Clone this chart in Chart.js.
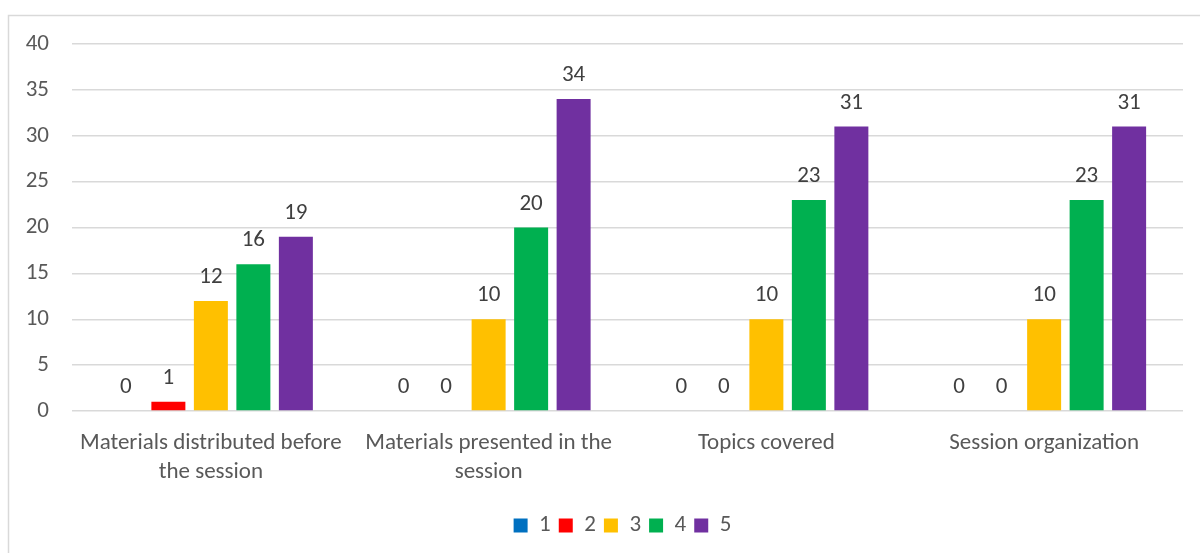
<!DOCTYPE html>
<html>
<head>
<meta charset="utf-8">
<title>Session feedback</title>
<script src="https://cdn.jsdelivr.net/npm/chart.js@4.4.1/dist/chart.umd.min.js"></script>
<style>
    html, body { margin: 0; padding: 0; background: #ffffff; }
    #wrap { position: relative; width: 1200px; height: 553px; }
</style>
</head>
<body>
<div id="wrap"><canvas id="feedbackChart"></canvas></div>
<script>
// categories (x axis)
const categories = [
    ['Materials distributed before', 'the session'],
    ['Materials presented in the', 'session'],
    'Topics covered',
    'Session organization'
];

// rating counts per category
const rating1 = [0, 0, 0, 0];
const rating2 = [1, 0, 0, 0];
const rating3 = [12, 10, 10, 10];
const rating4 = [16, 20, 23, 23];
const rating5 = [19, 34, 31, 31];

const ratingLabels = ['1', '2', '3', '4', '5'];
const ratingColors = ['#0070C0', '#FF0000', '#FFC000', '#00B050', '#7030A0'];

const yTicks = [0, 5, 10, 15, 20, 25, 30, 35, 40];

const fontFamily = "Carlito, Calibri, Lato, 'Open Sans', sans-serif";

// value above each bar
const valueLabels = {
    id: 'valueLabels',
    afterDatasetsDraw(chart) {
        const ctx = chart.ctx;
        ctx.save();
        ctx.font = '23px ' + fontFamily;
        ctx.fillStyle = '#404040';
        ctx.textAlign = 'center';
        ctx.textBaseline = 'alphabetic';
        chart.data.datasets.forEach((ds, i) => {
            const meta = chart.getDatasetMeta(i);
            if (meta.hidden) return;
            meta.data.forEach((bar, j) => {
                ctx.fillText(String(ds.data[j]), bar.x, bar.y - 18);
            });
        });
        ctx.restore();
    }
};

// light frame around the chart area
const chartFrame = {
    id: 'chartFrame',
    beforeDraw(chart) {
        const ctx = chart.ctx;
        ctx.save();
        ctx.strokeStyle = '#D9D9D9';
        ctx.lineWidth = 1.5;
        ctx.beginPath();
        ctx.moveTo(8.5, chart.height);
        ctx.lineTo(8.5, 15.5);
        ctx.lineTo(chart.width, 15.5);
        ctx.stroke();
        ctx.restore();
    }
};

// center the legend under the plot area instead of the whole canvas
const legendUnderPlot = {
    id: 'legendUnderPlot',
    afterLayout(chart) {
        const legend = chart.legend;
        if (!legend) return;
        const shift = (chart.chartArea.left + chart.chartArea.right) / 2 - (legend.left + legend.right) / 2 - 5;
        legend.left += shift;
        legend.right += shift;
    }
};

const datasets = [rating1, rating2, rating3, rating4, rating5].map((values, i) => ({
    label: ratingLabels[i],
    data: values,
    backgroundColor: ratingColors[i],
    borderWidth: 0,
    barPercentage: 0.8,
    categoryPercentage: 0.765
}));

Chart.defaults.font.family = fontFamily;
Chart.defaults.color = '#595959';

new Chart(document.getElementById('feedbackChart'), {
    type: 'bar',
    data: { labels: categories, datasets: datasets },
    options: {
        responsive: true,
        maintainAspectRatio: false,
        animation: false,
        layout: {
            padding: { top: 44, right: 17, left: 0, bottom: 6 }
        },
        plugins: {
            legend: {
                position: 'bottom',
                labels: {
                    boxWidth: 14,
                    boxHeight: 14,
                    padding: 8,
                    color: '#595959',
                    font: { size: 23 }
                }
            },
            tooltip: { enabled: false }
        },
        scales: {
            x: {
                grid: { display: false, drawTicks: false },
                border: { display: false },
                ticks: {
                    color: '#595959',
                    font: { size: 23, lineHeight: 1.25 },
                    maxRotation: 0,
                    autoSkip: false,
                    padding: 18
                },
                afterFit(scale) { scale.height = 95; }
            },
            y: {
                min: 0,
                max: 40,
                afterBuildTicks(scale) {
                    scale.ticks = yTicks.map(v => ({ value: v }));
                },
                grid: {
                    color: '#D9D9D9',
                    lineWidth: 1.5,
                    drawTicks: false
                },
                border: { display: false },
                ticks: {
                    color: '#595959',
                    font: { size: 23 },
                    padding: 23
                },
                afterFit(scale) { scale.width = 72; }
            }
        }
    },
    plugins: [chartFrame, legendUnderPlot, valueLabels]
});
</script>
</body>
</html>
